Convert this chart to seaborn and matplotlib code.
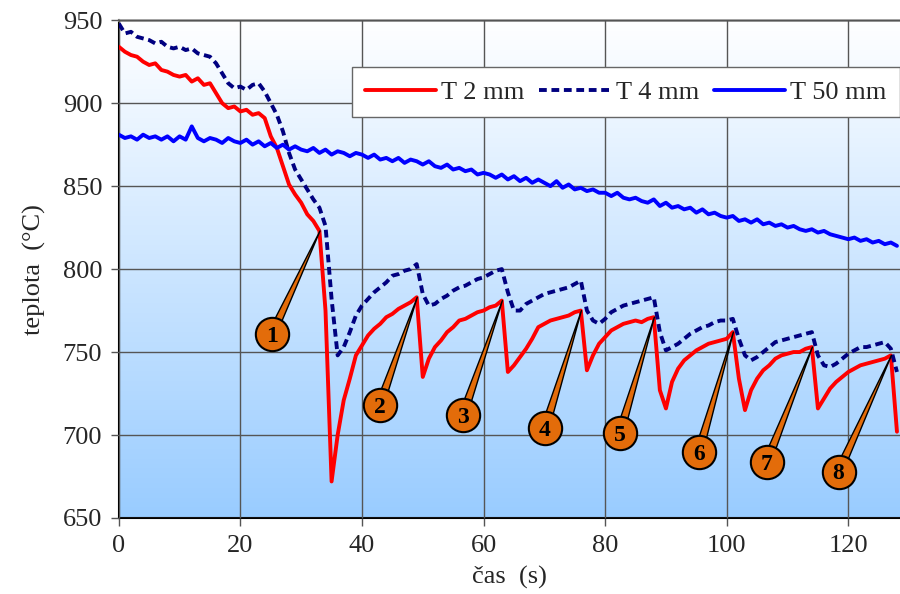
import numpy as np
import seaborn as sns
import matplotlib.pyplot as plt
from matplotlib.colors import LinearSegmentedColormap

# --- data (1 s sampling) ---
cas = np.arange(0, 129)  # time in s

t2mm = [
    934, 931, 929, 928, 925, 923, 924, 920, 919, 917,
    916, 917, 913, 915, 911, 912, 906, 900, 897, 898,
    895, 896, 893, 894, 891, 880, 873, 862, 851, 845,
    840, 833, 829, 823, 775, 672, 700, 721, 734, 748,
    754, 760, 764, 767, 771, 773, 776, 778, 780, 783,
    735, 746, 753, 757, 762, 765, 769, 770, 772, 774,
    775, 777, 778, 781, 738, 742, 747, 752, 758, 765,
    767, 769, 770, 771, 772, 774, 775, 739, 748, 755,
    759, 763, 765, 767, 768, 769, 768, 770, 771, 727,
    716, 732, 740, 745, 748, 751, 753, 755, 756, 757,
    758, 762, 734, 715, 727, 734, 739, 742, 746, 748,
    749, 750, 750, 752, 753, 716, 722, 728, 732, 735,
    738, 740, 742, 743, 744, 745, 746, 748, 702,
]

t4mm = [
    948, 942, 943, 940, 939, 938, 936, 937, 934, 933,
    934, 932, 933, 930, 929, 928, 924, 918, 912, 909,
    910, 908, 911, 912, 907, 900, 893, 883, 870, 860,
    854, 848, 842, 837, 826, 782, 748, 753, 762, 772,
    778, 782, 786, 789, 792, 796, 797, 799, 800, 803,
    785, 778, 779, 782, 784, 787, 789, 790, 792, 794,
    795, 797, 799, 800, 786, 775, 775, 779, 781, 783,
    785, 786, 787, 788, 789, 791, 793, 775, 769, 767,
    770, 774, 776, 778, 779, 780, 781, 782, 783, 762,
    751, 753, 755, 758, 761, 763, 765, 766, 768, 769,
    769, 770, 758, 748, 745, 747, 750, 753, 756, 757,
    758, 759, 760, 761, 762, 748, 742, 741, 743, 746,
    749, 751, 753, 753, 754, 755, 756, 752, 738,
]

t50mm = [
    881, 879, 880, 878, 881, 879, 880, 878, 880, 877,
    880, 878, 886, 879, 877, 879, 878, 876, 879, 877,
    876, 878, 875, 877, 874, 876, 873, 875, 872, 874,
    872, 871, 873, 870, 872, 869, 871, 870, 868, 870,
    869, 867, 869, 866, 867, 865, 867, 864, 866, 865,
    863, 865, 862, 861, 863, 860, 861, 859, 860, 857,
    858, 857, 855, 857, 854, 856, 853, 855, 852, 854,
    852, 850, 853, 849, 851, 848, 849, 847, 848, 846,
    846, 844, 846, 843, 842, 843, 841, 840, 842, 838,
    840, 837, 838, 836, 837, 834, 836, 833, 834, 832,
    831, 832, 829, 830, 828, 830, 827, 828, 826, 827,
    825, 826, 824, 823, 824, 822, 823, 821, 820, 819,
    818, 819, 817, 818, 816, 817, 815, 816, 814,
]

# numbered callouts: peak time on the T 2 mm curve
peak_cas = [33, 49, 63, 76, 88, 101, 114, 127]
callout_pos = [(25.2, 761), (42.9, 718), (56.6, 712), (70.1, 704),
               (82.4, 701), (95.4, 690), (106.6, 684), (118.4, 678)]

sns.set_style("white")
plt.rcParams['font.family'] = ['Liberation Serif', 'DejaVu Serif']

fig = plt.figure(figsize=(9, 5.94), dpi=100)
ax = fig.add_axes([0.132, 0.128, 0.868, 0.838])

# background gradient white -> light blue
cmap = LinearSegmentedColormap.from_list('bg', ['#99CCFF', '#FFFFFF'])
ax.imshow(np.linspace(0, 1, 256).reshape(-1, 1)[::-1], cmap=cmap, aspect='auto',
          extent=[0, 128.5, 650, 950], zorder=0, origin='upper')

sns.lineplot(x=cas, y=t2mm, ax=ax, color='#FF0000', lw=2.8, label='T 2 mm', zorder=3)
sns.lineplot(x=cas, y=t4mm, ax=ax, color='#000080', lw=2.8, linestyle=(0, (2.0, 1.2)),
             label='T 4 mm', zorder=3)
sns.lineplot(x=cas, y=t50mm, ax=ax, color='#0000FF', lw=2.8, label='T 50 mm', zorder=3)

ax.set_xlim(0, 128.5)
ax.set_ylim(650, 950)
ax.set_xticks(range(0, 121, 20))
ax.set_yticks(range(650, 951, 50))
ax.grid(True, color='#555555', lw=1)
ax.set_axisbelow(False)
for gl in ax.get_xgridlines() + ax.get_ygridlines():
    gl.set_zorder(1)

ax.spines['left'].set_color('black')
ax.spines['left'].set_linewidth(1.5)
ax.spines['bottom'].set_color('black')
ax.spines['bottom'].set_linewidth(1.5)
ax.spines['top'].set_color('#999999')
ax.spines['top'].set_linewidth(2)
ax.spines['right'].set_visible(False)
ax.tick_params(axis='both', direction='out', length=6, width=1, color='#555555',
               labelsize=19, pad=6, bottom=True, left=True)

ax.set_xlabel('čas  (s)', fontsize=19, labelpad=7)
ax.set_ylabel('teplota  (°C)', fontsize=19, labelpad=12)

# callouts
orange = '#E36C0A'
for i, (pc, (cx, cy)) in enumerate(zip(peak_cas, callout_pos)):
    tip = (cas[pc] + 0.1, t2mm[pc])
    ax.annotate('', xy=tip, xytext=(cx, cy),
                arrowprops=dict(arrowstyle='wedge,tail_width=0.3,shrink_factor=0.5',
                                fc=orange, ec='black', lw=1, shrinkA=0, shrinkB=0,
                                mutation_scale=20), zorder=4)
    ax.plot(cx, cy, 'o', ms=24, mfc=orange, mec='black', mew=1.5, zorder=5)
    ax.text(cx, cy - 1.5, str(i + 1), ha='center', va='center', fontsize=17,
            fontweight='bold', color='black', zorder=6)

leg = ax.legend(loc='lower left', bbox_to_anchor=(0.298, 0.805, 0.702, 0.113),
                mode='expand', ncol=3, fontsize=19, frameon=True, fancybox=False,
                framealpha=1, edgecolor='#666666', handlelength=2.7,
                handletextpad=0.2, columnspacing=0.4, borderaxespad=0,
                borderpad=0.5)
leg.get_frame().set_linewidth(1)
leg.set_zorder(7)

fig.savefig('out.png', dpi=100)
